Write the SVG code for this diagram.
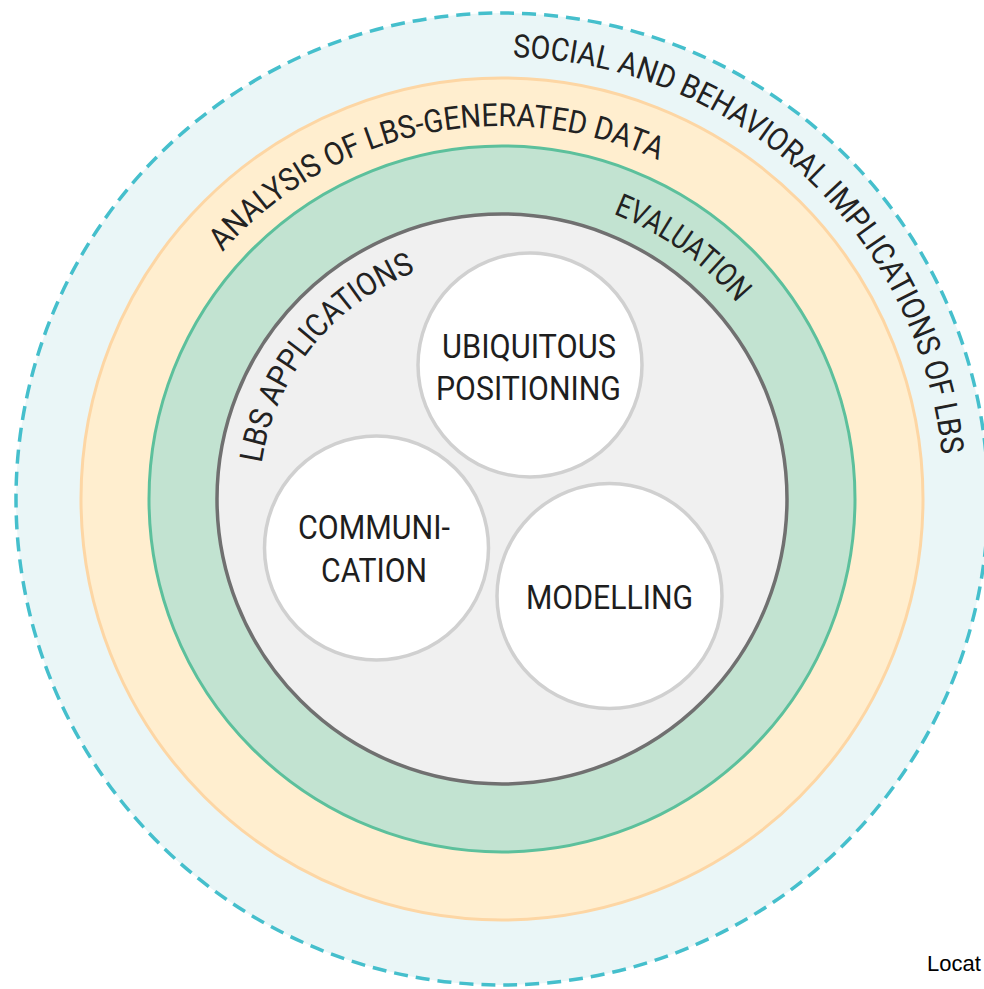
<svg xmlns="http://www.w3.org/2000/svg" width="984" height="989" viewBox="0 0 984 989">
<style>
.lbl{font-family:Roboto,"Liberation Sans",sans-serif;fill:#222;font-size:32px}
.in{font-family:Roboto,"Liberation Sans",sans-serif;fill:#1e1e1e;font-size:34px}
.node{fill:#ffffff;stroke:#d0d0d0;stroke-width:3.5}
</style>
<defs>
<path id="pSocial" d="M512.8,57.1 A442,442 0 0 1 942.3,537.5"/>
<path id="pAnalysis" d="M222.6,251.9 A373,373 0 0 1 741.8,213.3"/>
<path id="pEval" d="M613.2,213.9 A306,306 0 0 1 789.5,394.3"/>
<path id="pApps" d="M261.7,463.1 A243,243 0 0 1 502,256"/>
</defs>
<rect width="984" height="989" fill="#ffffff"/>
<g id="ring-social">
<circle cx="502" cy="499" r="486" fill="#eaf6f7" stroke="#45bfcc" stroke-width="3.5" stroke-dasharray="14 8"/>
<text class="lbl"><textPath href="#pSocial" textLength="639" lengthAdjust="spacingAndGlyphs">SOCIAL AND BEHAVIORAL IMPLICATIONS OF LBS</textPath></text>
</g>
<g id="ring-analysis">
<circle cx="502" cy="499" r="421" fill="#ffeecf" stroke="#fdd6a4" stroke-width="3"/>
<text class="lbl"><textPath href="#pAnalysis" textLength="477" lengthAdjust="spacingAndGlyphs">ANALYSIS OF LBS-GENERATED DATA</textPath></text>
</g>
<g id="ring-evaluation">
<circle cx="502" cy="499" r="353" fill="#c2e3d1" stroke="#5cc09c" stroke-width="3"/>
<text class="lbl"><textPath href="#pEval" textLength="154" lengthAdjust="spacingAndGlyphs">EVALUATION</textPath></text>
</g>
<g id="ring-applications">
<circle cx="502" cy="499" r="285" fill="#f0f0f0" stroke="#707070" stroke-width="3.5"/>
<text class="lbl"><textPath href="#pApps" textLength="257" lengthAdjust="spacingAndGlyphs">LBS APPLICATIONS</textPath></text>
</g>
<g id="connectors"></g>
<g id="node-positioning">
<circle class="node" cx="530" cy="365" r="112"/>
<text class="in" x="442" y="358" textLength="174" lengthAdjust="spacingAndGlyphs">UBIQUITOUS</text>
<text class="in" x="436" y="400" textLength="185" lengthAdjust="spacingAndGlyphs">POSITIONING</text>
</g>
<g id="node-communication">
<circle class="node" cx="376.5" cy="548" r="112"/>
<text class="in" x="298" y="539" textLength="152" lengthAdjust="spacingAndGlyphs">COMMUNI-</text>
<text class="in" x="321" y="582" textLength="106" lengthAdjust="spacingAndGlyphs">CATION</text>
</g>
<g id="node-modelling">
<circle class="node" cx="609.5" cy="596" r="112.5"/>
<text class="in" x="526" y="609" textLength="167" lengthAdjust="spacingAndGlyphs">MODELLING</text>
</g>
<text x="927" y="971" font-family="'Liberation Sans',Arial,sans-serif" font-size="22" fill="#000">Locat</text>
</svg>
